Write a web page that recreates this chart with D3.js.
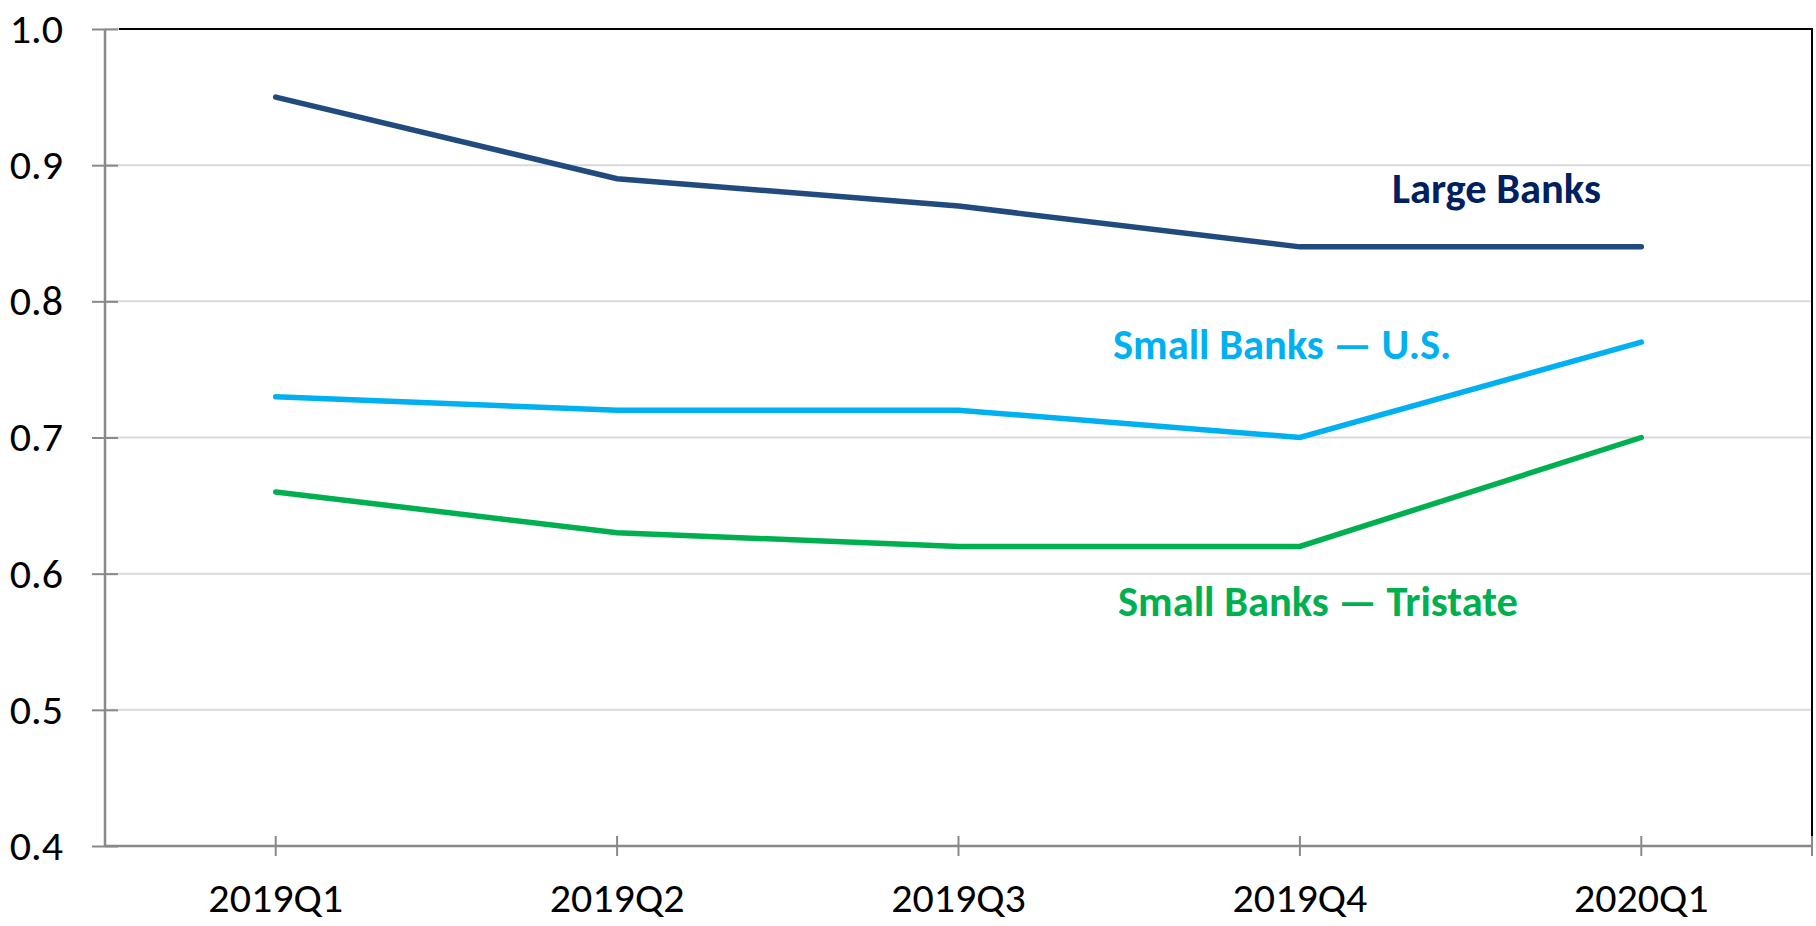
<!DOCTYPE html>
<html>
<head>
<meta charset="utf-8">
<script src="https://cdn.jsdelivr.net/npm/d3@7"></script>
<style>
  body { margin: 0; background: #fff; }
  text { font-family: Carlito, Calibri, Lato, sans-serif; }
</style>
</head>
<body>
<svg id="chart"></svg>
<script>
// quarters on the x axis
const quarters = ['2019Q1', '2019Q2', '2019Q3', '2019Q4', '2020Q1']
// values
const largeBanks = [0.95, 0.89, 0.87, 0.84, 0.84]
const smallBanksUS = [0.73, 0.72, 0.72, 0.70, 0.77]
const smallBanksTristate = [0.66, 0.63, 0.62, 0.62, 0.70]
const yTicks = [0.4, 0.5, 0.6, 0.7, 0.8, 0.9, 1.0]

const series = [
  { name: 'Large Banks', values: largeBanks, color: '#214a7e', labelColor: '#002060', lx: 1392, ly: 203 },
  { name: 'Small Banks \u2014 U.S.', values: smallBanksUS, color: '#00b0f0', labelColor: '#00b0f0', lx: 1113, ly: 359 },
  { name: 'Small Banks \u2014 Tristate', values: smallBanksTristate, color: '#00b050', labelColor: '#00b050', lx: 1118, ly: 616 }
]

const width = 1816, height = 926
const margin = { top: 29, right: 4, bottom: 80, left: 105 }

const svg = d3.select('#chart')
  .attr('width', width)
  .attr('height', height)

const x = d3.scaleBand()
  .domain(quarters)
  .range([margin.left, width - margin.right])

const y = d3.scaleLinear()
  .domain([0.4, 1.0])
  .range([height - margin.bottom, margin.top])

// gridlines
svg.append('g')
  .selectAll('line')
  .data(yTicks.filter(d => d > 0.4))
  .enter()
  .append('line')
  .attr('x1', margin.left)
  .attr('x2', width - margin.right)
  .attr('y1', d => y(d))
  .attr('y2', d => y(d))
  .attr('stroke', '#d9d9d9')
  .attr('stroke-width', 2)

// top and right border of the plot area
svg.append('path')
  .attr('d', `M${margin.left + 14},${y(1)}H${width - margin.right}V${y(0.4)}`)
  .attr('fill', 'none')
  .attr('stroke', '#000')
  .attr('stroke-width', 2)

// y axis with ticks crossing the line
const yAxis = svg.append('g')
  .attr('transform', `translate(${margin.left},0)`)
  .call(d3.axisLeft(y).tickValues(yTicks).tickFormat(d3.format('.1f')).tickSize(13).tickPadding(30))
yAxis.select('.domain').remove()
yAxis.append('line')
  .attr('y1', margin.top).attr('y2', y(0.4))
  .attr('stroke', '#898989').attr('stroke-width', 2.5)
yAxis.selectAll('.tick line')
  .attr('x2', -13).attr('x1', 13)
  .attr('stroke', '#898989').attr('stroke-width', 2)
yAxis.selectAll('.tick text')
  .attr('x', -42)
  .attr('font-size', 42)
  .attr('fill', '#000')

// x axis, ticks at the category centres and at the right edge
const xAxis = svg.append('g')
  .attr('transform', `translate(0,${y(0.4)})`)
  .call(d3.axisBottom(x).tickSize(10).tickPadding(0))
xAxis.select('.domain').remove()
xAxis.append('line')
  .attr('x1', margin.left).attr('x2', width - margin.right)
  .attr('stroke', '#898989').attr('stroke-width', 2.5)
xAxis.append('line')
  .attr('x1', width - margin.right).attr('x2', width - margin.right)
  .attr('y1', -10).attr('y2', 10)
  .attr('stroke', '#898989').attr('stroke-width', 2)
xAxis.selectAll('.tick line')
  .attr('y1', -10).attr('y2', 10)
  .attr('stroke', '#898989').attr('stroke-width', 2)
xAxis.selectAll('.tick text')
  .attr('y', 66)
  .attr('dy', null)
  .attr('font-size', 42)
  .attr('fill', '#000')

// lines
const line = d3.line()
  .x((d, i) => x(quarters[i]) + x.bandwidth() / 2)
  .y(d => y(d))

svg.append('g')
  .selectAll('path')
  .data(series)
  .enter()
  .append('path')
  .attr('d', d => line(d.values))
  .attr('fill', 'none')
  .attr('stroke', d => d.color)
  .attr('stroke-width', 5.5)
  .attr('stroke-linecap', 'round')
  .attr('stroke-linejoin', 'miter')

// series labels
svg.append('g')
  .selectAll('text')
  .data(series)
  .enter()
  .append('text')
  .attr('x', d => d.lx)
  .attr('y', d => d.ly)
  .attr('fill', d => d.labelColor)
  .attr('font-weight', 'bold')
  .attr('font-size', 42.5)
  .text(d => d.name)
</script>
</body>
</html>
